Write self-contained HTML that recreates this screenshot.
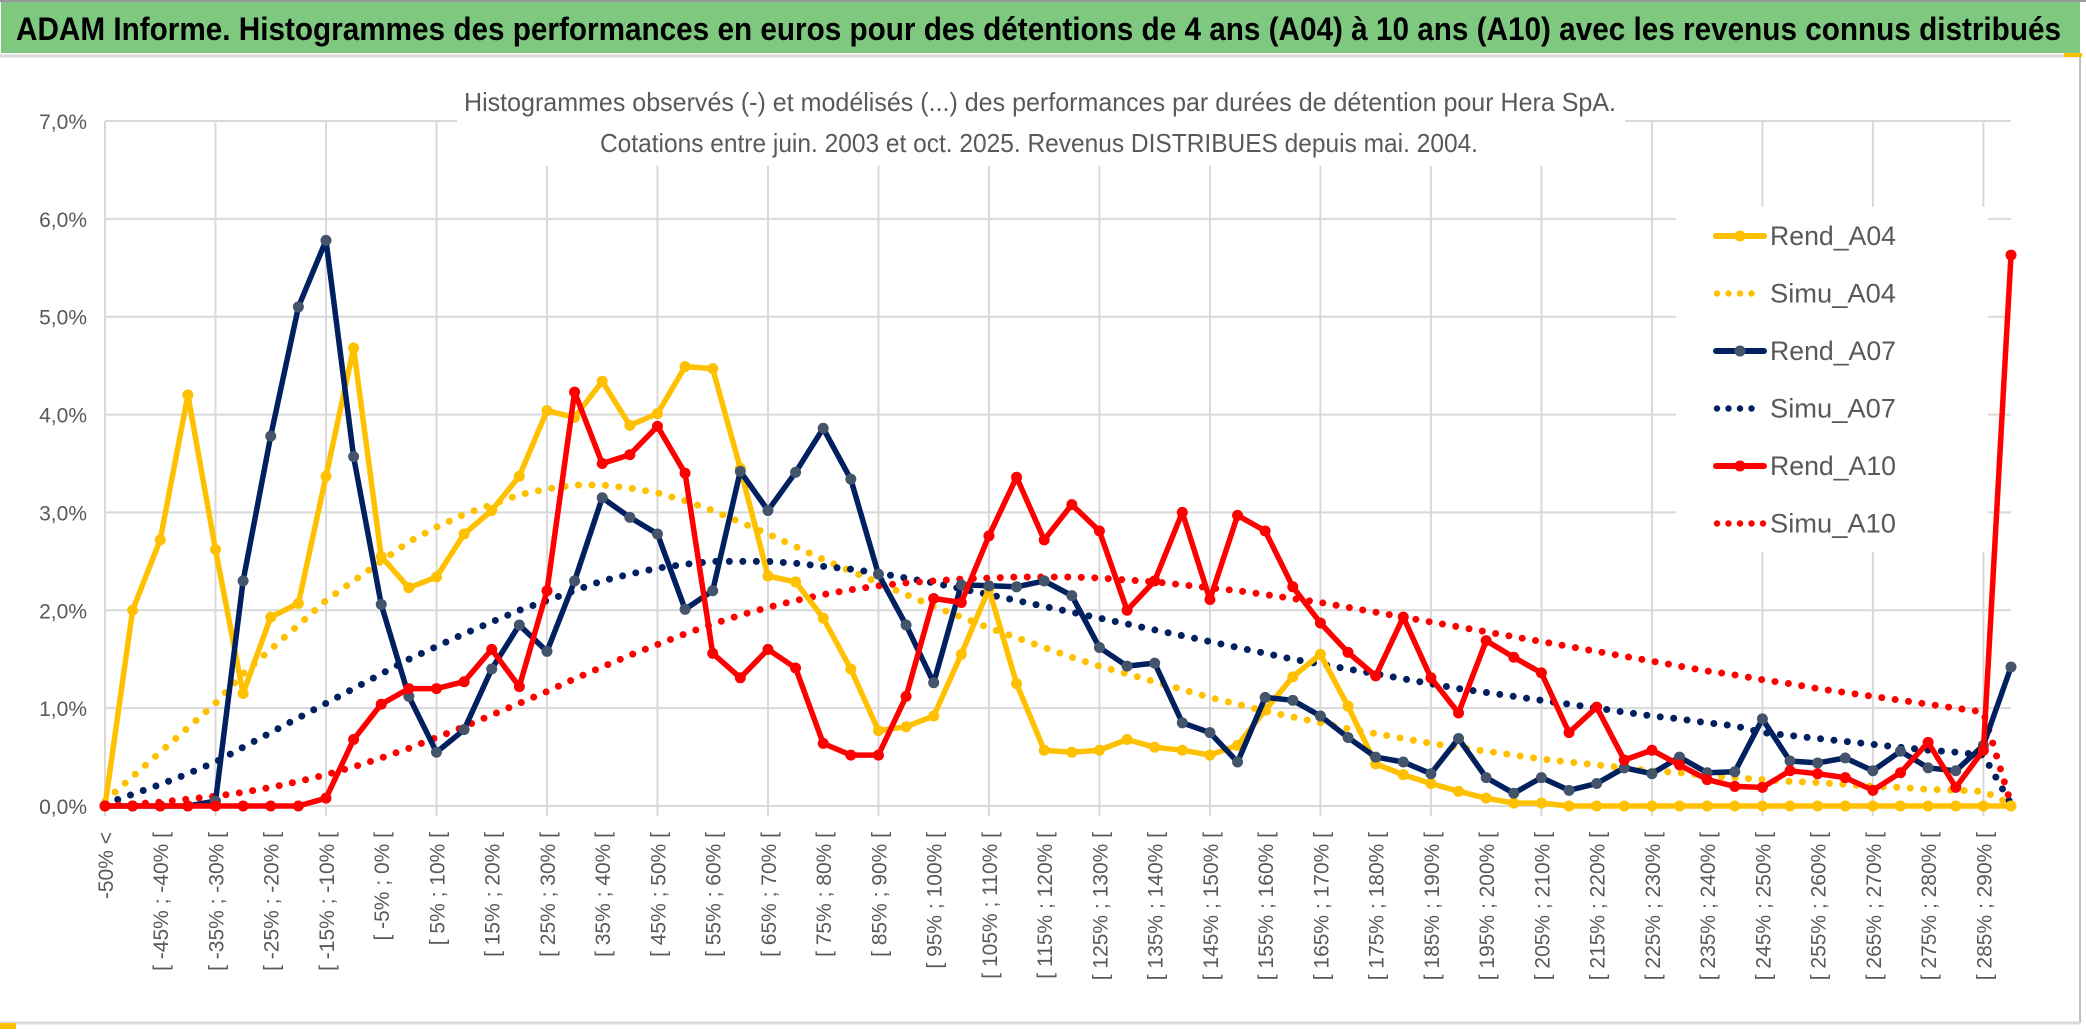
<!DOCTYPE html>
<html><head><meta charset="utf-8"><style>
html,body{margin:0;padding:0;background:#fff;}
svg{display:block;}
text{font-family:"Liberation Sans",sans-serif;}
</style></head><body>
<svg id="chart" width="2086" height="1033" viewBox="0 0 2086 1033" xmlns="http://www.w3.org/2000/svg">
<rect x="0" y="0" width="2086" height="1033" fill="#fff"/>
<rect x="1" y="2" width="2079" height="51" fill="#7EC97F"/>
<text x="16" y="40" font-size="32" font-weight="bold" fill="#000" textLength="2045" lengthAdjust="spacingAndGlyphs">ADAM Informe. Histogrammes des performances en euros pour des détentions de 4 ans (A04) à 10 ans (A10) avec les revenus connus distribués</text>
<line x1="0" y1="1" x2="2086" y2="1" stroke="#999" stroke-width="2"/>
<line x1="0" y1="56" x2="2080" y2="56" stroke="#d9d9d9" stroke-width="3"/>
<line x1="2080" y1="56" x2="2080" y2="1023" stroke="#bfbfbf" stroke-width="2"/>
<line x1="0" y1="1023" x2="2080" y2="1023" stroke="#d9d9d9" stroke-width="3"/>
<rect x="0" y="1023" width="16" height="6" fill="#FFC000"/>
<rect x="2064" y="53" width="18" height="4" fill="#FFC000"/>
<g id="grid"></g>
<rect x="457" y="80" width="1168" height="86" fill="#fff"/>
<text x="1040" y="111" font-size="26" fill="#595959" text-anchor="middle" textLength="1152" lengthAdjust="spacingAndGlyphs">Histogrammes observés (-) et modélisés (...) des performances par durées de détention pour Hera SpA.</text>
<text x="1039" y="152" font-size="26" fill="#595959" text-anchor="middle" textLength="878" lengthAdjust="spacingAndGlyphs">Cotations entre juin. 2003 et oct. 2025. Revenus DISTRIBUES depuis mai. 2004.</text>
<rect x="1676" y="207" width="312" height="345" fill="#fff"/>
<g id="yaxis"></g>
<g id="xaxis"></g>
<g id="series"></g>
<g id="legend"></g>
</svg>
<script>
const categories = ["-50% <","[ -50% ; -45% [","[ -45% ; -40% [","[ -40% ; -35% [","[ -35% ; -30% [","[ -30% ; -25% [","[ -25% ; -20% [","[ -20% ; -15% [","[ -15% ; -10% [","[ -10% ; -5% [","[ -5% ; 0% [","[ 0% ; 5% [","[ 5% ; 10% [","[ 10% ; 15% [","[ 15% ; 20% [","[ 20% ; 25% [","[ 25% ; 30% [","[ 30% ; 35% [","[ 35% ; 40% [","[ 40% ; 45% [","[ 45% ; 50% [","[ 50% ; 55% [","[ 55% ; 60% [","[ 60% ; 65% [","[ 65% ; 70% [","[ 70% ; 75% [","[ 75% ; 80% [","[ 80% ; 85% [","[ 85% ; 90% [","[ 90% ; 95% [","[ 95% ; 100% [","[ 100% ; 105% [","[ 105% ; 110% [","[ 110% ; 115% [","[ 115% ; 120% [","[ 120% ; 125% [","[ 125% ; 130% [","[ 130% ; 135% [","[ 135% ; 140% [","[ 140% ; 145% [","[ 145% ; 150% [","[ 150% ; 155% [","[ 155% ; 160% [","[ 160% ; 165% [","[ 165% ; 170% [","[ 170% ; 175% [","[ 175% ; 180% [","[ 180% ; 185% [","[ 185% ; 190% [","[ 190% ; 195% [","[ 195% ; 200% [","[ 200% ; 205% [","[ 205% ; 210% [","[ 210% ; 215% [","[ 215% ; 220% [","[ 220% ; 225% [","[ 225% ; 230% [","[ 230% ; 235% [","[ 235% ; 240% [","[ 240% ; 245% [","[ 245% ; 250% [","[ 250% ; 255% [","[ 255% ; 260% [","[ 260% ; 265% [","[ 265% ; 270% [","[ 270% ; 275% [","[ 275% ; 280% [","[ 280% ; 285% [","[ 285% ; 290% [","> 290%"];
const yTicks = [0,1,2,3,4,5,6,7];
const yTickLabels = ["0,0%","1,0%","2,0%","3,0%","4,0%","5,0%","6,0%","7,0%"];
const rendA04 = [0,2.0,2.72,4.2,2.62,1.15,1.93,2.07,3.37,4.68,2.55,2.23,2.34,2.78,3.02,3.37,4.04,3.97,4.34,3.89,4.01,4.49,4.47,3.45,2.35,2.29,1.92,1.40,0.77,0.81,0.92,1.55,2.22,1.25,0.57,0.55,0.57,0.68,0.60,0.57,0.52,0.62,0.98,1.32,1.55,1.02,0.43,0.32,0.23,0.15,0.08,0.03,0.03,0,0,0,0,0,0,0,0,0,0,0,0,0,0,0,0,0];
const simuA04 = [0.05,0.3,0.55,0.8,1.05,1.35,1.6,1.85,2.1,2.3,2.5,2.7,2.85,2.98,3.08,3.18,3.24,3.28,3.28,3.25,3.2,3.12,3.02,2.9,2.78,2.65,2.52,2.4,2.28,2.16,2.04,1.93,1.82,1.72,1.62,1.52,1.43,1.35,1.27,1.19,1.11,1.04,0.97,0.91,0.85,0.79,0.74,0.69,0.64,0.6,0.56,0.52,0.48,0.45,0.42,0.39,0.36,0.34,0.31,0.29,0.27,0.25,0.24,0.22,0.2,0.19,0.17,0.16,0.15,0.02];
const rendA07 = [0,0,0,0,0.05,2.3,3.78,5.1,5.78,3.57,2.06,1.12,0.55,0.78,1.4,1.85,1.58,2.3,3.15,2.95,2.78,2.01,2.2,3.42,3.02,3.41,3.86,3.34,2.37,1.85,1.26,2.26,2.25,2.24,2.30,2.15,1.62,1.43,1.46,0.85,0.75,0.45,1.11,1.08,0.92,0.70,0.50,0.45,0.33,0.69,0.29,0.13,0.29,0.16,0.23,0.39,0.33,0.5,0.34,0.35,0.89,0.46,0.44,0.49,0.36,0.56,0.39,0.36,0.62,1.42];
const simuA07 = [0.02,0.12,0.22,0.33,0.45,0.6,0.75,0.9,1.05,1.2,1.35,1.5,1.63,1.76,1.88,2.0,2.1,2.2,2.3,2.37,2.43,2.47,2.5,2.5,2.5,2.48,2.45,2.42,2.38,2.33,2.28,2.22,2.16,2.1,2.04,1.98,1.92,1.86,1.8,1.74,1.68,1.62,1.56,1.5,1.45,1.4,1.35,1.3,1.25,1.2,1.16,1.12,1.08,1.04,1.0,0.96,0.92,0.89,0.85,0.82,0.75,0.72,0.69,0.66,0.63,0.6,0.57,0.55,0.52,0.02];
const rendA10 = [0,0,0,0,0,0,0,0,0.08,0.68,1.04,1.2,1.2,1.27,1.6,1.22,2.2,4.23,3.5,3.59,3.88,3.4,1.56,1.31,1.6,1.41,0.64,0.52,0.52,1.12,2.12,2.08,2.76,3.36,2.72,3.08,2.81,2.0,2.3,3.0,2.11,2.97,2.81,2.24,1.87,1.57,1.33,1.93,1.31,0.95,1.69,1.52,1.36,0.75,1.01,0.47,0.57,0.42,0.27,0.2,0.19,0.36,0.33,0.29,0.16,0.34,0.65,0.19,0.57,5.63];
const simuA10 = [0,0.02,0.04,0.07,0.1,0.14,0.19,0.25,0.32,0.4,0.49,0.59,0.7,0.81,0.93,1.05,1.17,1.3,1.42,1.54,1.65,1.76,1.86,1.95,2.03,2.1,2.16,2.21,2.25,2.28,2.3,2.32,2.33,2.34,2.34,2.34,2.33,2.31,2.29,2.26,2.23,2.2,2.16,2.12,2.08,2.03,1.98,1.93,1.88,1.83,1.78,1.73,1.68,1.63,1.58,1.53,1.48,1.43,1.38,1.34,1.29,1.25,1.2,1.16,1.12,1.08,1.04,1.0,0.96,0.02];
const seriesNames = ["Rend_A04","Simu_A04","Rend_A07","Simu_A07","Rend_A10","Simu_A10"];

const NS = "http://www.w3.org/2000/svg";
const X0 = 105, X1 = 2011, Y0 = 806, YTOP = 121;
function xPos(i){ return X0 + i*(X1-X0)/(categories.length-1); }
function yPos(v){ return Y0 - v*(Y0-YTOP)/7; }
function mk(tag, attrs, parent){ const e=document.createElementNS(NS,tag); for(const k in attrs) e.setAttribute(k,attrs[k]); parent.appendChild(e); return e; }

const grid = document.getElementById('grid');
yTicks.forEach(t=>{
  const l = mk('line',{x1:X0,x2:X1,y1:yPos(t),y2:yPos(t),stroke:'#d9d9d9','stroke-width':2},grid);
  
  
});
for(let i=0;i<categories.length;i+=4){
  const l = mk('line',{x1:xPos(i),x2:xPos(i),y1:YTOP,y2:Y0+10,stroke:'#d9d9d9','stroke-width':2},grid);
  
  
}
const yaxis = document.getElementById('yaxis');
yTicks.forEach((t,k)=>{
  const tx = mk('text',{x:87,y:yPos(t)+8,'font-size':21,fill:'#595959','text-anchor':'end'},yaxis);
  tx.textContent = yTickLabels[k];
  
  
});
const xaxis = document.getElementById('xaxis');
categories.forEach((c,i)=>{
  if(i%2!==0 || i>68) return;
  const x = xPos(i)+8, y = 832;
  const tx = mk('text',{x:x,y:y,'font-size':21,fill:'#595959','text-anchor':'end',transform:`rotate(-90 ${x} ${y})`},xaxis);
  tx.textContent = c;
  
  
});

const series = document.getElementById('series');
function pts(arr){ return arr.map((v,i)=>xPos(i).toFixed(1)+','+yPos(v).toFixed(1)).join(' '); }
function dotted(arr,color,name){
  const p = mk('polyline',{points:pts(arr),fill:'none',stroke:color,'stroke-width':7,'stroke-linecap':'round','stroke-dasharray':'0 13.5'},series);
  
  
}
function solid(arr,color,mcolor,name){
  const g = mk('g',{},series);
  
  
  mk('polyline',{points:pts(arr),fill:'none',stroke:color,'stroke-width':5.5,'stroke-linejoin':'round'},g);
  arr.forEach((v,i)=>{
    const c = mk('circle',{cx:xPos(i),cy:yPos(v),r:5.5,fill:mcolor},g);
    
    
  });
}
dotted(simuA04,'#FFC000','simu-a04-line');
dotted(simuA07,'#002060','simu-a07-line');
dotted(simuA10,'#FF0000','simu-a10-line');
solid(rendA04,'#FFC000','#FFC000','rend-a04-line');
solid(rendA07,'#002060','#44546A','rend-a07-line');
solid(rendA10,'#FF0000','#FF0000','rend-a10-line');

const legend = document.getElementById('legend');
const legColors = ['#FFC000','#FFC000','#002060','#002060','#FF0000','#FF0000'];
seriesNames.forEach((n,k)=>{
  const y = 236 + k*57.5;
  const g = mk('g',{},legend);
  
  
  if(k%2===0){
    mk('line',{x1:1716,x2:1764,y1:y,y2:y,stroke:legColors[k],'stroke-width':6,'stroke-linecap':'round'},g);
    mk('circle',{cx:1740,cy:y,r:5.5,fill:k===2?'#44546A':legColors[k]},g);
  } else {
    const nd = k===5 ? 5 : 4;
    for(let d=0;d<nd;d++) mk('circle',{cx:1717+d*11.5,cy:y,r:3.2,fill:legColors[k]},g);
  }
  const t = mk('text',{x:1770,y:y+9,'font-size':27,fill:'#595959',textLength:126,lengthAdjust:'spacingAndGlyphs'},g);
  t.textContent = n;
});
</script>
</body></html>
